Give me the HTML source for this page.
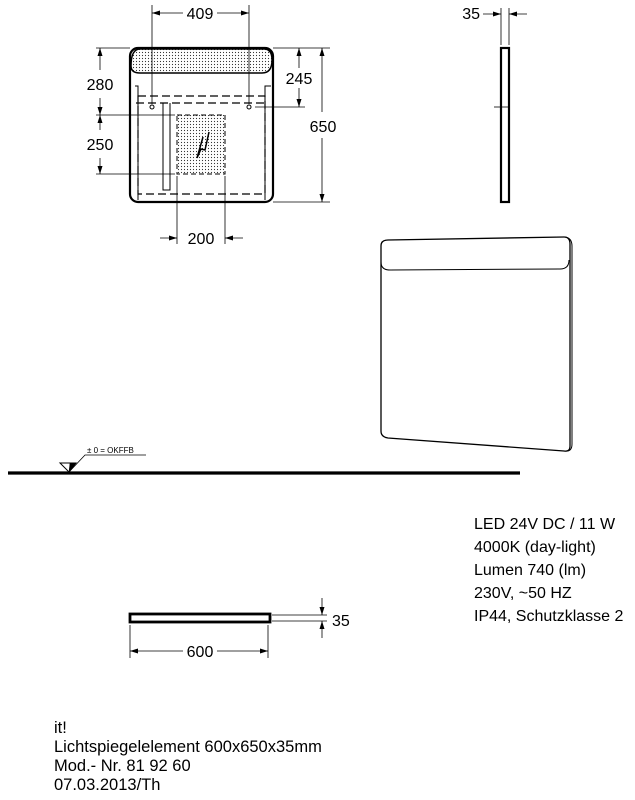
<!DOCTYPE html>
<html><head><meta charset="utf-8"><style>
html,body{margin:0;padding:0;background:#fff;width:635px;height:800px;overflow:hidden}
svg{display:block}
text{font-family:"Liberation Sans",sans-serif;fill:#000}
</style></head><body>
<svg width="635" height="800" viewBox="0 0 635 800" xmlns="http://www.w3.org/2000/svg">
<defs>
<pattern id="dots" width="3" height="3" patternUnits="userSpaceOnUse"><rect width="3" height="3" fill="#fff"/><circle cx="1.5" cy="1.5" r="0.6" fill="#333"/></pattern>
<marker id="ar" markerWidth="8" markerHeight="6" refX="8" refY="3" orient="auto" markerUnits="userSpaceOnUse"><path d="M0,0.5 L8,3 L0,5.5z" fill="#000"/></marker>
</defs>
<g stroke="#000" fill="none">
<rect x="130" y="48" width="143" height="154" rx="8" stroke-width="2.2"/>
<path d="M131,66 Q131,49 140,49 L264,49 Q272,49 272,60 Q272,73 262,73 L140,73 Q131,73 131,66z" fill="url(#dots)" stroke-width="1.5"/>
<rect x="177" y="115" width="48" height="59" fill="url(#dots)" stroke-width="1" stroke-dasharray="5,3"/>
<path d="M203,137 L197,158 L201,149 L205,150 L209,132" stroke-width="1.5"/>
<rect x="138" y="96" width="127" height="98" stroke-width="1.2" stroke-dasharray="8,4"/>
<line x1="136" y1="103" x2="265" y2="103" stroke-width="1.2" stroke-dasharray="8,4"/>
<path d="M135,86 L138,86 L138,200 M271,86 L265,86 L265,200" stroke-width="1"/>
<path d="M163,103 L163,190 L170,190 L170,103" stroke-width="1"/>
<circle cx="152" cy="107" r="2" stroke-width="1"/><circle cx="249" cy="107" r="2" stroke-width="1"/>
<g stroke-width="0.8">
<line x1="152" y1="5" x2="152" y2="104"/><line x1="249" y1="5" x2="249" y2="104"/>
<line x1="183" y1="13" x2="152" y2="13" marker-end="url(#ar)"/><line x1="217" y1="13" x2="249" y2="13" marker-end="url(#ar)"/>
<line x1="96" y1="48" x2="130" y2="48"/><line x1="96" y1="115" x2="175" y2="115"/><line x1="96" y1="174" x2="175" y2="174"/>
<line x1="100" y1="70" x2="100" y2="48" marker-end="url(#ar)"/><line x1="100" y1="98" x2="100" y2="115" marker-end="url(#ar)"/>
<line x1="100" y1="130" x2="100" y2="115" marker-end="url(#ar)"/><line x1="100" y1="158" x2="100" y2="174" marker-end="url(#ar)"/>
<line x1="273" y1="48" x2="330" y2="48"/><line x1="273" y1="202" x2="330" y2="202"/><line x1="255" y1="107" x2="305" y2="107"/>
<line x1="299" y1="68" x2="299" y2="48" marker-end="url(#ar)"/><line x1="299" y1="88" x2="299" y2="107" marker-end="url(#ar)"/>
<line x1="322" y1="112" x2="322" y2="48" marker-end="url(#ar)"/><line x1="322" y1="138" x2="322" y2="202" marker-end="url(#ar)"/>
<line x1="177" y1="176" x2="177" y2="244"/><line x1="225" y1="176" x2="225" y2="244"/>
<line x1="160" y1="238" x2="177" y2="238" marker-end="url(#ar)"/><line x1="243" y1="238" x2="225" y2="238" marker-end="url(#ar)"/>
<line x1="501" y1="8" x2="501" y2="45"/><line x1="509" y1="8" x2="509" y2="45"/>
<line x1="483" y1="14" x2="501" y2="14" marker-end="url(#ar)"/><line x1="527" y1="14" x2="509" y2="14" marker-end="url(#ar)"/>
<line x1="494" y1="107" x2="509" y2="107"/>
</g>
<rect x="501" y="48" width="8" height="154" stroke-width="2.2"/>
<path d="M388,240 L564,237 Q570,237 570,244 L570,446 Q570,452 564,451 L388,438 Q381,437 381,431 L381,246 Q381,240 388,240z" stroke-width="1.3"/>
<path d="M565,237 Q572,238 572,246 L572,444 Q572,452 565,451" stroke-width="1"/>
<path d="M381,262 Q381,270 390,270 L560,269 Q569,269 569,260" stroke-width="1"/>
<line x1="8" y1="473" x2="520" y2="473" stroke-width="3.2"/>
<path d="M60,463 L76,463 L69,472z" stroke-width="1" fill="#fff"/>
<path d="M69,472 L76,463 L70,463z" fill="#000" stroke-width="0.5"/>
<path d="M69,472 L85,455 L146,455" stroke-width="0.8"/>
<rect x="130" y="614" width="140" height="8" stroke-width="2.8"/>
<g stroke-width="0.8">
<line x1="272" y1="615" x2="327" y2="615"/><line x1="272" y1="621" x2="327" y2="621"/>
<line x1="322" y1="598" x2="322" y2="615" marker-end="url(#ar)"/><line x1="322" y1="638" x2="322" y2="621" marker-end="url(#ar)"/>
<line x1="130" y1="625" x2="130" y2="658"/><line x1="268" y1="625" x2="268" y2="658"/>
<line x1="183" y1="651" x2="130" y2="651" marker-end="url(#ar)"/><line x1="217" y1="651" x2="268" y2="651" marker-end="url(#ar)"/>
</g>
</g>
<g font-size="16">
<text x="200" y="19" text-anchor="middle">409</text>
<text x="100" y="90" text-anchor="middle">280</text>
<text x="100" y="150" text-anchor="middle">250</text>
<text x="299" y="84" text-anchor="middle">245</text>
<text x="323" y="132" text-anchor="middle">650</text>
<text x="201" y="244" text-anchor="middle">200</text>
<text x="480" y="19" text-anchor="end">35</text>
<text x="332" y="626">35</text>
<text x="200" y="657" text-anchor="middle">600</text>
</g>
<g font-size="16">
<text x="474" y="529">LED 24V DC / 11 W</text>
<text x="474" y="552">4000K (day-light)</text>
<text x="474" y="575">Lumen 740 (lm)</text>
<text x="474" y="598">230V, ~50 HZ</text>
<text x="474" y="621">IP44, Schutzklasse 2</text>
</g>
<text x="87" y="453" font-size="8">± 0 = OKFFB</text>
<g font-size="16.5">
<text x="54" y="733">it!</text>
<text x="54" y="752">Lichtspiegelelement 600x650x35mm</text>
<text x="54" y="771">Mod.- Nr. 81 92 60</text>
<text x="54" y="790">07.03.2013/Th</text>
</g>
</svg>
</body></html>
